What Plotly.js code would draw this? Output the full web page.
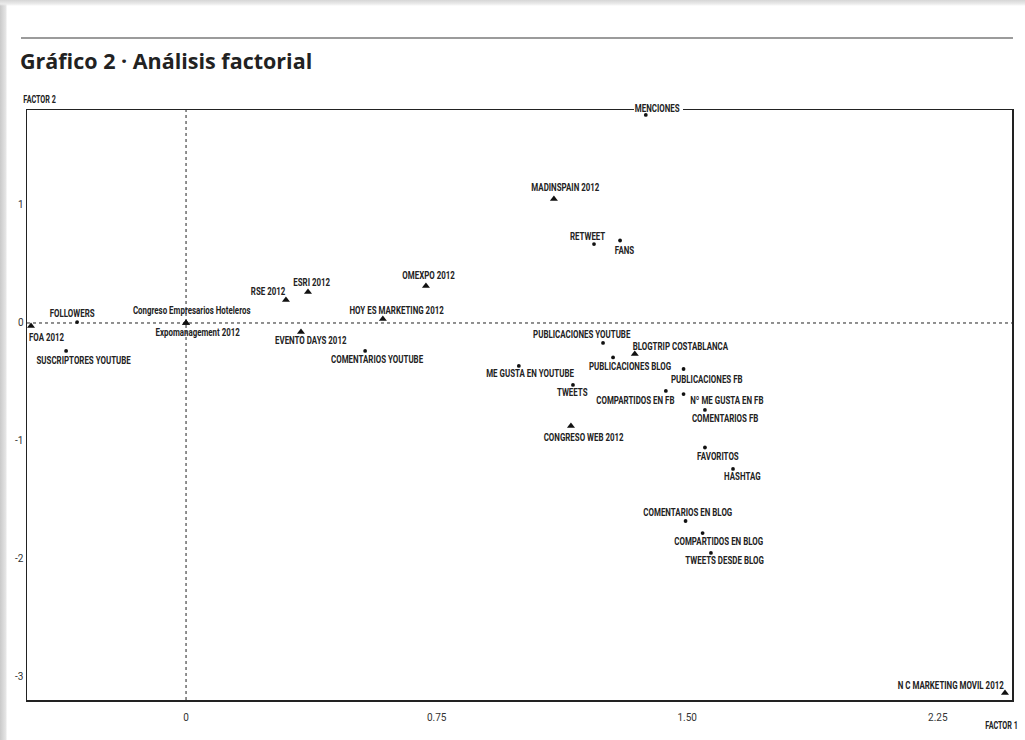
<!DOCTYPE html>
<html>
<head>
<meta charset="utf-8">
<script src="https://cdn.plot.ly/plotly-3.0.1.min.js"></script>
<style>
  html, body { margin: 0; padding: 0; width: 1025px; height: 740px; overflow: hidden;
    background:
      linear-gradient(to bottom, #d6d6d6 0px, #ececec 4px, rgba(255,255,255,0) 6px),
      linear-gradient(to right, #c9c9c9 0px, #e6e6e6 6px, #ffffff 7px);
  }
  #chart { width: 1025px; height: 740px; }
  /* condensed look for the point labels */
  #chart .annotation-text {
    transform-box: fill-box;
    transform-origin: center;
    transform: scaleX(0.72);
  }
</style>
</head>
<body>
<div id="chart"></div>
<script>
// ---- data ----
const names = [
  "MENCIONES", "MADINSPAIN 2012", "RETWEET", "FANS", "OMEXPO 2012", "ESRI 2012", "RSE 2012",
  "HOY ES MARKETING 2012", "FOLLOWERS", "Congreso Empresarios Hoteleros", "Expomanagement 2012",
  "FOA 2012", "SUSCRIPTORES YOUTUBE", "EVENTO DAYS 2012", "COMENTARIOS YOUTUBE",
  "PUBLICACIONES YOUTUBE", "BLOGTRIP COSTABLANCA", "PUBLICACIONES BLOG", "ME GUSTA EN YOUTUBE",
  "PUBLICACIONES FB", "TWEETS", "COMPARTIDOS EN FB", "Nº ME GUSTA EN FB", "COMENTARIOS FB",
  "CONGRESO WEB 2012", "FAVORITOS", "HASHTAG", "COMENTARIOS EN BLOG", "COMPARTIDOS EN BLOG",
  "TWEETS DESDE BLOG", "N C MARKETING MOVIL 2012"
];
const factor1 = [
  1.376, 1.101, 1.221, 1.299, 0.718, 0.365, 0.299,
  0.589, -0.326, 0.000, 0.000,
  -0.464, -0.359, 0.344, 0.536,
  1.248, 1.343, 1.278, 0.996,
  1.489, 1.158, 1.436, 1.489, 1.553,
  1.152, 1.553, 1.637, 1.495, 1.546,
  1.571, 2.451
];
const factor2 = [
  1.763, 1.051, 0.669, 0.699, 0.314, 0.263, 0.195,
  0.034, 0.008, 0.000, 0.000,
  -0.025, -0.237, -0.076, -0.237,
  -0.169, -0.263, -0.292, -0.364,
  -0.390, -0.525, -0.576, -0.602, -0.737,
  -0.873, -1.055, -1.237, -1.678, -1.780,
  -1.949, -3.136
];
// "e" = evento (triangle), "v" = variable (dot)
const kind = [
  "v", "e", "v", "v", "e", "e", "e",
  "e", "v", "e", "e",
  "e", "v", "e", "v",
  "v", "e", "v", "v",
  "v", "v", "v", "v", "v",
  "e", "v", "v", "v", "v",
  "v", "e"
];
const xTickVals = [0, 0.75, 1.5, 2.25];
const xTickText = ["0", "0.75", "1.50", "2.25"];
const yTickVals = [1, 0, -1, -2, -3];
const yTickText = ["1", "0", "-1", "-2", "-3"];

// ---- label placement (pixel offsets of label centre from its mark) ----
const labelDx = [
  12, 12, -7, 4, 3, 3, -18,
  14, -5, 6, 11,
  15, 17, 10, 12,
  -22, 46, 17, 11,
  23, 0, -30, 43, 20,
  13, 13, 9, 2, 16,
  14, -54
];
const labelDy = [
  -6, -11, -8, 10, -10, -9, -8,
  -8, -9, -12, 10,
  12, 10, 9, 9,
  -8, -8, 9, 8,
  10, 8, 10, 6, 9,
  11, 9, 8, -8, 8,
  8, -8
];

const FONT = 'Roboto, "Liberation Sans", sans-serif';

const evX = [], evY = [], vaX = [], vaY = [];
kind.forEach((k, i) => {
  if (k === "e") { evX.push(factor1[i]); evY.push(factor2[i]); }
  else { vaX.push(factor1[i]); vaY.push(factor2[i]); }
});

const traces = [
  { type: "scatter", mode: "markers", x: vaX, y: vaY, cliponaxis: false, hoverinfo: "skip",
    marker: { symbol: "circle", size: 3.8, color: "#111" } },
  { type: "scatter", mode: "markers", x: evX, y: evY, cliponaxis: false, hoverinfo: "skip",
    marker: { symbol: "triangle-up", size: 7, color: "#111" } }
];

const annotations = names.map((n, i) => ({
  x: factor1[i], y: factor2[i], xref: "x", yref: "y",
  text: n, showarrow: false, xanchor: "center", yanchor: "middle",
  xshift: labelDx[i], yshift: -labelDy[i],
  font: { family: FONT, size: 11, color: "#222", weight: 700 }
}));

annotations.push(
  { xref: "paper", yref: "paper", x: 0.0127, y: 1.017, xanchor: "center", yanchor: "middle",
    text: "FACTOR 2", showarrow: false,
    font: { family: FONT, size: 10, color: "#222", weight: 700 } },
  { xref: "paper", yref: "paper", x: 0.9898, y: -0.044, xanchor: "center", yanchor: "middle",
    text: "FACTOR 1", showarrow: false,
    font: { family: FONT, size: 10, color: "#222", weight: 700 } }
);

const layout = {
  width: 1025, height: 740,
  margin: { l: 27, r: 13, t: 110, b: 40, pad: 0 },
  paper_bgcolor: "rgba(0,0,0,0)", plot_bgcolor: "#ffffff",
  showlegend: false,
  title: {
    text: "<b>Gráfico 2 · Análisis factorial</b>",
    x: 20 / 1025, xanchor: "left", xref: "container",
    y: 1 - 61 / 740, yanchor: "middle", yref: "container",
    font: { family: '"Open Sans", "Lato", sans-serif', size: 21.5, color: "#222" }
  },
  xaxis: {
    range: [-0.476, 2.472], showgrid: false, zeroline: false,
    showline: true, mirror: true, linecolor: "#222", linewidth: 1.5,
    tickmode: "array", tickvals: xTickVals, ticktext: xTickText,
    ticks: "outside", ticklen: 7, tickcolor: "rgba(0,0,0,0)",
    tickfont: { family: FONT, size: 10, color: "#333" }
  },
  yaxis: {
    range: [-3.195, 1.805], showgrid: false, zeroline: false,
    showline: true, mirror: true, linecolor: "#222", linewidth: 1.5,
    tickmode: "array", tickvals: yTickVals, ticktext: yTickText,
    ticks: "", ticklen: 0,
    tickfont: { family: FONT, size: 10, color: "#333" }
  },
  shapes: [
    { type: "line", xref: "x", yref: "paper", x0: 0, x1: 0, y0: 0, y1: 1, layer: "below",
      line: { color: "#222", width: 1, dash: "dot" } },
    { type: "line", xref: "paper", yref: "y", x0: 0, x1: 1, y0: 0, y1: 0, layer: "below",
      line: { color: "#222", width: 1, dash: "dot" } },
    { type: "line", xref: "paper", yref: "paper", x0: -0.0061, x1: 1.001, y0: 1.122, y1: 1.122,
      line: { color: "#7a7a7a", width: 1.6 } },
    // gap in the top frame behind the MENCIONES label
    { type: "line", xref: "paper", yref: "paper", x0: 0.6162, x1: 0.666, y0: 1, y1: 1, layer: "above",
      line: { color: "#ffffff", width: 3 } }
  ],
  annotations: annotations
};

Plotly.newPlot("chart", traces, layout, { staticPlot: true, displayModeBar: false });
</script>
</body>
</html>
